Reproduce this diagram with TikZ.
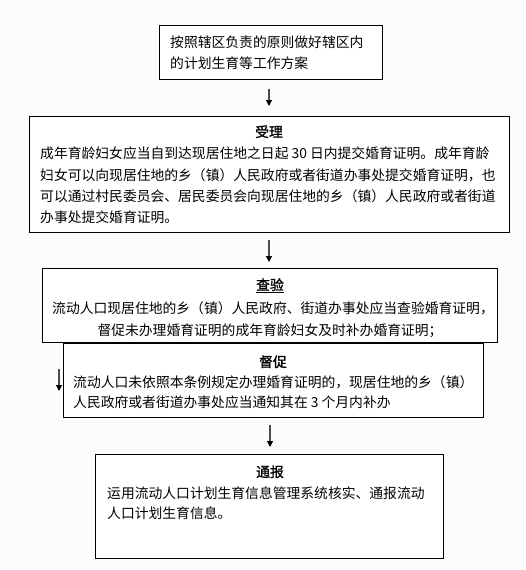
\documentclass[tikz,border=0pt]{standalone}
\usepackage{fontspec}
\usetikzlibrary{arrows.meta}
\newfontfamily\cjk{Noto Sans CJK SC}
\newfontfamily\cjkb{Noto Sans CJK SC}[FakeBold=1.5]
\begin{document}
\begin{tikzpicture}[x=1pt,y=-1pt,
  box/.style={draw=black, line width=1pt, fill=white, inner sep=0pt, outer sep=0pt, anchor=north west},
  txt/.style={inner sep=0pt, anchor=base west, font=\cjk\fontsize{13.8pt}{16pt}\selectfont},
  ttl/.style={inner sep=0pt, anchor=base, font=\cjkb\fontsize{13.8pt}{16pt}\selectfont},
  ctxt/.style={inner sep=0pt, anchor=base, font=\cjk\fontsize{13.8pt}{16pt}\selectfont},
  arr/.style={draw=black!70, line width=1.2pt, -{Triangle[width=6pt,length=6pt,color=black,fill=black]}}]
\useasboundingbox (0,0) rectangle (525,570);
\fill[black!1] (0,0) rectangle (525,570);
% boxes
\node[box, minimum width=223pt, minimum height=54pt] (b1) at (159,25) {};
\node[box, minimum width=480pt, minimum height=116pt] (b2) at (29,116) {};
\node[box, minimum width=420pt, minimum height=74pt] (b4) at (63,343) {};
\node[box, minimum width=455pt, minimum height=74pt] (b3) at (42,268) {};
\node[box, minimum width=348pt, minimum height=104pt] (b5) at (95,454) {};
% box 1 text
\node[txt] (t1a) at (170,47) {按照辖区负责的原则做好辖区内};
\node[txt] (t1b) at (170,68) {的计划生育等工作方案};
% box 2 text
\node[ttl] (t2t) at (269,137) {受理};
\node[txt] (t2a) at (40,158) {成年育龄妇女应当自到达现居住地之日起 30 日内提交婚育证明。成年育龄};
\node[txt] (t2b) at (40,180) {妇女可以向现居住地的乡（镇）人民政府或者街道办事处提交婚育证明，也};
\node[txt] (t2c) at (40,201) {可以通过村民委员会、居民委员会向现居住地的乡（镇）人民政府或者街道};
\node[txt] (t2d) at (40,222) {办事处提交婚育证明。};
% box 3 text
\node[ttl] (t3t) at (270,290) {\underline{查验}};
\node[txt] (t3a) at (52,313) {流动人口现居住地的乡（镇）人民政府、街道办事处应当查验婚育证明，};
\node[ctxt] (t3b) at (270,335) {督促未办理婚育证明的成年育龄妇女及时补办婚育证明；};
% box 4 text
\node[ttl] (t4t) at (273,367) {督促};
\node[txt] (t4a) at (73,387) {流动人口未依照本条例规定办理婚育证明的，现居住地的乡（镇）};
\node[txt] (t4b) at (73,407) {人民政府或者街道办事处应当通知其在 3 个月内补办};
% box 5 text
\node[ttl] (t5t) at (270,477) {通报};
\node[txt] (t5a) at (107,498) {运用流动人口计划生育信息管理系统核实、通报流动};
\node[txt] (t5b) at (107,518) {人口计划生育信息。};
% arrows
\draw[arr, shorten <=10pt, shorten >=10pt] (b1.south -| 269,0) -- (b2.north -| 269,0);
\draw[arr, shorten <=8pt, shorten >=6pt] (b2.south -| 269,0) -- (b3.north -| 269,0);
\draw[arr, shorten <=8pt, shorten >=7pt] (b4.south -| 270,0) -- (b5.north -| 270,0);
\coordinate (s1) at (59,369);
\coordinate (s2) at (59,391);
\draw[arr] (s1) -- (s2);
\end{tikzpicture}
\end{document}
